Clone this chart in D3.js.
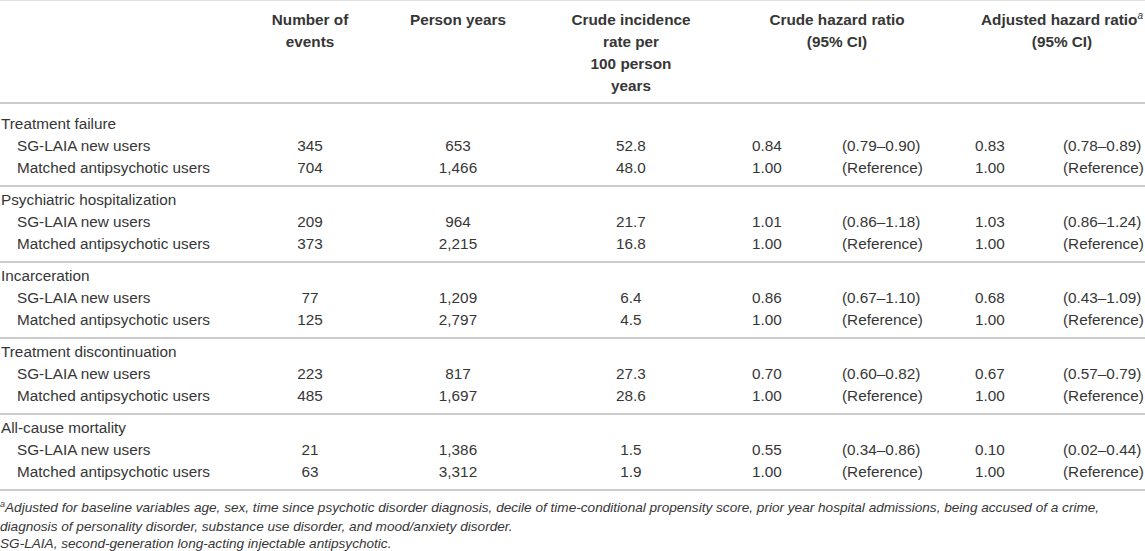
<!DOCTYPE html>
<html>
<head>
<meta charset="utf-8">
<script src="https://cdn.jsdelivr.net/npm/d3@7"></script>
<style>
  body { margin: 0; background: #fff; }
  svg text { font-family: "Liberation Sans", Arial, sans-serif; fill: #363636; }
</style>
</head>
<body>
<div id="chart"></div>
<script>
// table content
const outcomes = ["Treatment failure", "Psychiatric hospitalization", "Incarceration",
  "Treatment discontinuation", "All-cause mortality"];
const cohorts = ["SG-LAIA new users", "Matched antipsychotic users"];

const eventsNew = ["345", "209", "77", "223", "21"];
const eventsMatched = ["704", "373", "125", "485", "63"];
const personYearsNew = ["653", "964", "1,209", "817", "1,386"];
const personYearsMatched = ["1,466", "2,215", "2,797", "1,697", "3,312"];
const rateNew = ["52.8", "21.7", "6.4", "27.3", "1.5"];
const rateMatched = ["48.0", "16.8", "4.5", "28.6", "1.9"];
const crudeHrNew = ["0.84", "1.01", "0.86", "0.70", "0.55"];
const crudeCiNew = ["(0.79–0.90)", "(0.86–1.18)", "(0.67–1.10)", "(0.60–0.82)", "(0.34–0.86)"];
const adjHrNew = ["0.83", "1.03", "0.68", "0.67", "0.10"];
const adjCiNew = ["(0.78–0.89)", "(0.86–1.24)", "(0.43–1.09)", "(0.57–0.79)", "(0.02–0.44)"];
const refHr = "1.00";
const refCi = "(Reference)";

const headers = [
  { key: "events", lines: ["Number of", "events"] },
  { key: "years", lines: ["Person years"] },
  { key: "rate", lines: ["Crude incidence", "rate per", "100 person", "years"] },
  { key: "crude", lines: ["Crude hazard ratio", "(95% CI)"] },
  { key: "adj", lines: ["Adjusted hazard ratio", "(95% CI)"], sup: "a" }
];

const footnotes = [
  { sup: "a", text: "Adjusted for baseline variables age, sex, time since psychotic disorder diagnosis, decile of time-conditional propensity score, prior year hospital admissions, being accused of a crime," },
  { text: "diagnosis of personality disorder, substance use disorder, and mood/anxiety disorder." },
  { text: "SG-LAIA, second-generation long-acting injectable antipsychotic." }
];

const width = 1145, height = 551;
const fontSize = 15.3;

const svg = d3.select("#chart").append("svg")
  .attr("width", width)
  .attr("height", height);

// column positions
const colX = d3.scaleOrdinal()
  .domain(["events", "years", "rate", "crude", "adj", "crudeHr", "crudeCi", "adjHr", "adjCi"])
  .range([310, 458, 631, 837, 1062, 767, 842, 990, 1063]);

// header line positions
const headY = d3.scaleLinear().domain([0, 3]).range([25, 91]);

// group rows
const groupY = d3.scaleLinear().domain([0, 4]).range([129, 433]);
const rowStep = 22;

// rules
const rules = [103].concat(outcomes.map((d, i) => groupY(i) + 57));
svg.append("line")
  .attr("x1", 0).attr("x2", width).attr("y1", 0.5).attr("y2", 0.5)
  .attr("stroke", "#e2e2e2").attr("stroke-width", 1);
svg.selectAll("line.rule")
  .data(rules)
  .enter().append("line")
  .attr("class", "rule")
  .attr("x1", 0).attr("x2", width)
  .attr("y1", d => d).attr("y2", d => d)
  .attr("stroke", "#cbcbcb")
  .attr("stroke-width", 2);

// header
const head = svg.append("g").attr("class", "head")
  .style("font-weight", "bold").style("font-size", fontSize + "px");
headers.forEach(h => {
  h.lines.forEach((l, i) => {
    const t = head.append("text")
      .attr("x", colX(h.key))
      .attr("y", headY(i))
      .attr("text-anchor", "middle")
      .text(l);
    if (h.sup && i === 0) {
      t.append("tspan")
        .attr("dy", -6)
        .style("font-size", "10px")
        .style("font-weight", "normal")
        .style("font-style", "italic")
        .text(h.sup);
    }
  });
});

// body
const body = svg.append("g").attr("class", "body").style("font-size", fontSize + "px");
outcomes.forEach((o, g) => {
  const y0 = groupY(g);
  body.append("text").attr("x", 1).attr("y", y0).text(o);

  const rows = [
    [cohorts[0], eventsNew[g], personYearsNew[g], rateNew[g], crudeHrNew[g], crudeCiNew[g], adjHrNew[g], adjCiNew[g]],
    [cohorts[1], eventsMatched[g], personYearsMatched[g], rateMatched[g], refHr, refCi, refHr, refCi]
  ];
  rows.forEach((r, k) => {
    const y = y0 + rowStep * (k + 1);
    body.append("text").attr("x", 17).attr("y", y).text(r[0]);
    ["events", "years", "rate", "crudeHr"].forEach((c, j) => {
      body.append("text").attr("x", colX(c)).attr("y", y)
        .attr("text-anchor", "middle").text(r[j + 1]);
    });
    body.append("text").attr("x", colX("crudeCi")).attr("y", y).text(r[5]);
    body.append("text").attr("x", colX("adjHr")).attr("y", y)
      .attr("text-anchor", "middle").text(r[6]);
    body.append("text").attr("x", colX("adjCi")).attr("y", y).text(r[7]);
  });
});

// footnotes
const foot = svg.append("g").attr("class", "foot")
  .style("font-size", "13.6px").style("font-style", "italic");
const footY = d3.scaleLinear().domain([0, 2]).range([512, 548]);
footnotes.forEach((f, i) => {
  const t = foot.append("text").attr("x", 0).attr("y", footY(i) + (i === 1 ? 1 : 0));
  if (f.sup) {
    t.append("tspan").attr("dy", -5).style("font-size", "9px").text(f.sup);
    t.append("tspan").attr("dy", 5).text(f.text);
  } else {
    t.text(f.text);
  }
});
</script>
</body>
</html>
